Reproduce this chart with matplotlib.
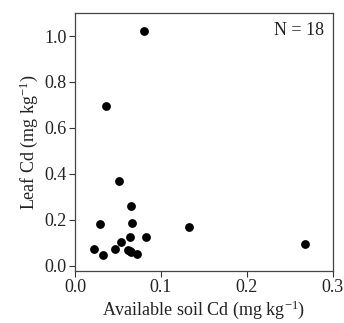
import matplotlib
matplotlib.use("Agg")
import matplotlib.pyplot as plt

soil_cd = [0.0797, 0.0358, 0.0517, 0.0657, 0.0292, 0.0665, 0.1327, 0.0825, 0.0638,
           0.0537, 0.2676, 0.0222, 0.0467, 0.0622, 0.0646, 0.0635, 0.0323, 0.0720]
leaf_cd = [1.021, 0.695, 0.367, 0.261, 0.183, 0.187, 0.169, 0.126, 0.124,
           0.105, 0.096, 0.071, 0.071, 0.068, 0.058, 0.063, 0.047, 0.050]
x_ticks = [0.0, 0.1, 0.2, 0.3]
y_ticks = [0.0, 0.2, 0.4, 0.6, 0.8, 1.0]

plt.rcParams['font.family'] = ['Liberation Serif', 'DejaVu Serif']
plt.rcParams['mathtext.fontset'] = 'custom'
plt.rcParams['mathtext.rm'] = 'Liberation Serif'
plt.rcParams['mathtext.it'] = 'Liberation Serif:italic'

fig = plt.figure(figsize=(3.44, 3.23), dpi=100)
ax = fig.add_axes([0.218, 0.162, 0.75, 0.799])
ax.scatter(soil_cd, leaf_cd, s=40, color='black', zorder=3, linewidths=0)
ax.set_xlim(0, 0.3)
ax.set_ylim(-0.022, 1.102)
ax.set_xticks(x_ticks)
ax.set_yticks(y_ticks)
ax.set_xticklabels([f"{v:.1f}" for v in x_ticks])
ax.set_yticklabels([f"{v:.1f}" for v in y_ticks])
ax.tick_params(direction='out', length=4, width=0.8, labelsize=13, colors='#333333',
               labelcolor='#222222', pad=2)
for sp in ax.spines.values():
    sp.set_color('#444444')
    sp.set_linewidth(0.9)
ax.set_xlabel(r'Available soil Cd (mg kg$^{\mathregular{-1}}$)', fontsize=13, color='#222222', labelpad=2)
ax.set_ylabel(r'Leaf Cd (mg kg$^{\mathregular{-1}}$)', fontsize=13, color='#222222', labelpad=3)
ax.text(0.965, 0.93, 'N = 18', transform=ax.transAxes, ha='right', va='center', fontsize=13, color='#222222')
fig.savefig('out.png', dpi=100)
